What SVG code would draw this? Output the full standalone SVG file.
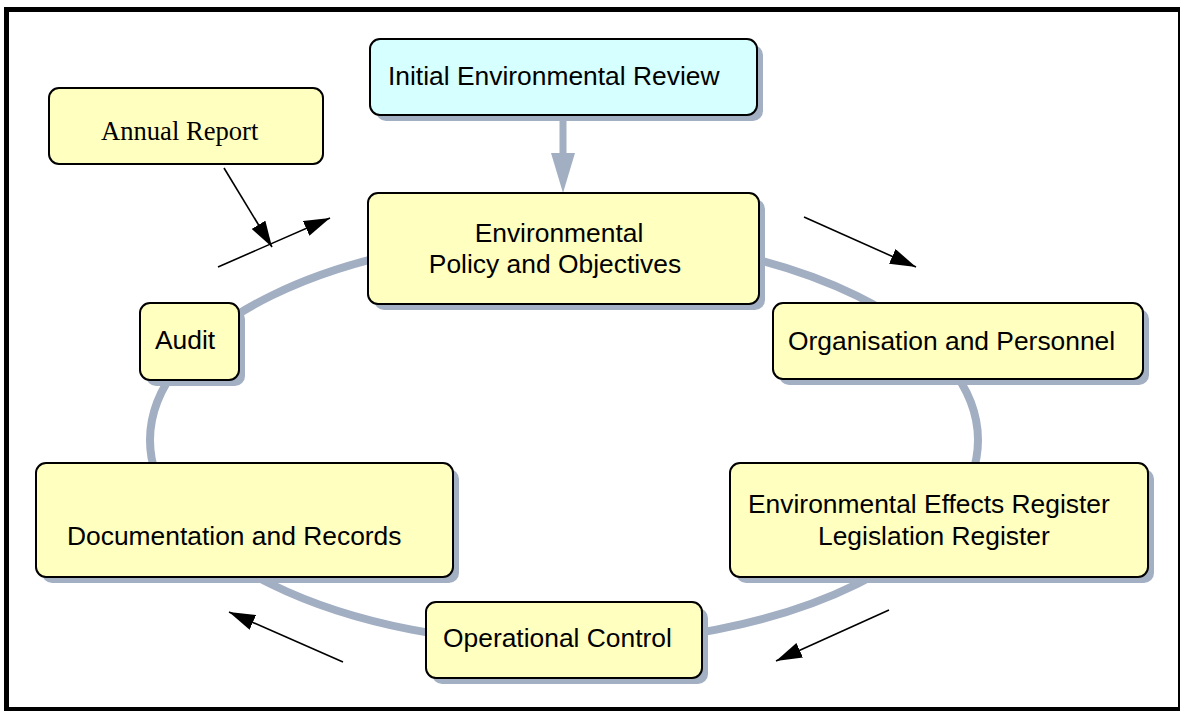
<svg xmlns="http://www.w3.org/2000/svg" width="1180" height="711" viewBox="0 0 1180 711">
<style>
.box{fill:#ffffbf;stroke:#000;stroke-width:2}
.cyan{fill:#d6ffff;stroke:#000;stroke-width:2}
.shadow{fill:#a3b0c4}
.t{font-family:"Liberation Sans",Arial,sans-serif;font-size:26.4px;fill:#000}
.ts{font-family:"Liberation Serif","Times New Roman",serif;font-size:26.6px;fill:#000}
.arr{stroke:#000;stroke-width:1.6;fill:none;marker-end:url(#ah)}
</style>
<defs>
<marker id="ah" viewBox="0 0 26 16" markerWidth="26" markerHeight="16" refX="26" refY="8" markerUnits="userSpaceOnUse" orient="auto">
<path d="M0,0 L26,8 L0,16 Z" fill="#000"/>
</marker>
</defs>
<rect x="0" y="0" width="1180" height="711" fill="#fff"/>
<rect x="6.5" y="9.5" width="1174" height="700" fill="none" stroke="#000" stroke-width="5"/>
<g id="cycle">
<ellipse cx="564" cy="440" rx="414" ry="204" fill="none" stroke="#a2afc3" stroke-width="8"/>
</g>
<g id="connectors">
<line x1="563" y1="115" x2="563" y2="156" stroke="#a2afc3" stroke-width="7"/>
<polygon points="551,153 575,153 563,193" fill="#a2afc3"/>
<line class="arr" x1="224" y1="168" x2="272" y2="247"/>
<line class="arr" x1="218" y1="267" x2="330" y2="218"/>
<line class="arr" x1="804" y1="217" x2="916" y2="267"/>
<line class="arr" x1="889" y1="610" x2="776" y2="661"/>
<line class="arr" x1="343" y1="662" x2="229" y2="612"/>
</g>
<g id="initial-review">
<rect class="shadow" x="376" y="45" width="387" height="76" rx="10"/>
<rect class="cyan" x="370" y="39" width="387" height="76" rx="10"/>
<text class="t" x="388" y="85">Initial Environmental Review</text>
</g>
<g id="annual-report">
<rect class="box" x="49" y="88" width="274" height="76" rx="10"/>
<text class="ts" x="101" y="140">Annual Report</text>
</g>
<g id="policy">
<rect class="shadow" x="374" y="199" width="391" height="111" rx="10"/>
<rect class="box" x="368" y="193" width="391" height="111" rx="10"/>
<text class="t" x="559" y="242" text-anchor="middle">Environmental</text>
<text class="t" x="555" y="273" text-anchor="middle">Policy and Objectives</text>
</g>
<g id="organisation">
<rect class="shadow" x="779" y="309" width="370" height="76" rx="10"/>
<rect class="box" x="773" y="303" width="370" height="76" rx="10"/>
<text class="t" x="788" y="350">Organisation and Personnel</text>
</g>
<g id="effects">
<rect class="shadow" x="736" y="469" width="418" height="114" rx="10"/>
<rect class="box" x="730" y="463" width="418" height="114" rx="10"/>
<text class="t" x="748" y="513">Environmental Effects Register</text>
<text class="t" x="818" y="545">Legislation Register</text>
</g>
<g id="operational">
<rect class="shadow" x="432" y="608" width="276" height="76" rx="10"/>
<rect class="box" x="426" y="602" width="276" height="76" rx="10"/>
<text class="t" x="443" y="647">Operational Control</text>
</g>
<g id="documentation">
<rect class="shadow" x="42" y="469" width="417" height="114" rx="10"/>
<rect class="box" x="36" y="463" width="417" height="114" rx="10"/>
<text class="t" x="67" y="545">Documentation and Records</text>
</g>
<g id="audit">
<rect class="shadow" x="146" y="309" width="99" height="77" rx="10"/>
<rect class="box" x="140" y="303" width="99" height="77" rx="10"/>
<text class="t" x="155" y="349">Audit</text>
</g>
</svg>
